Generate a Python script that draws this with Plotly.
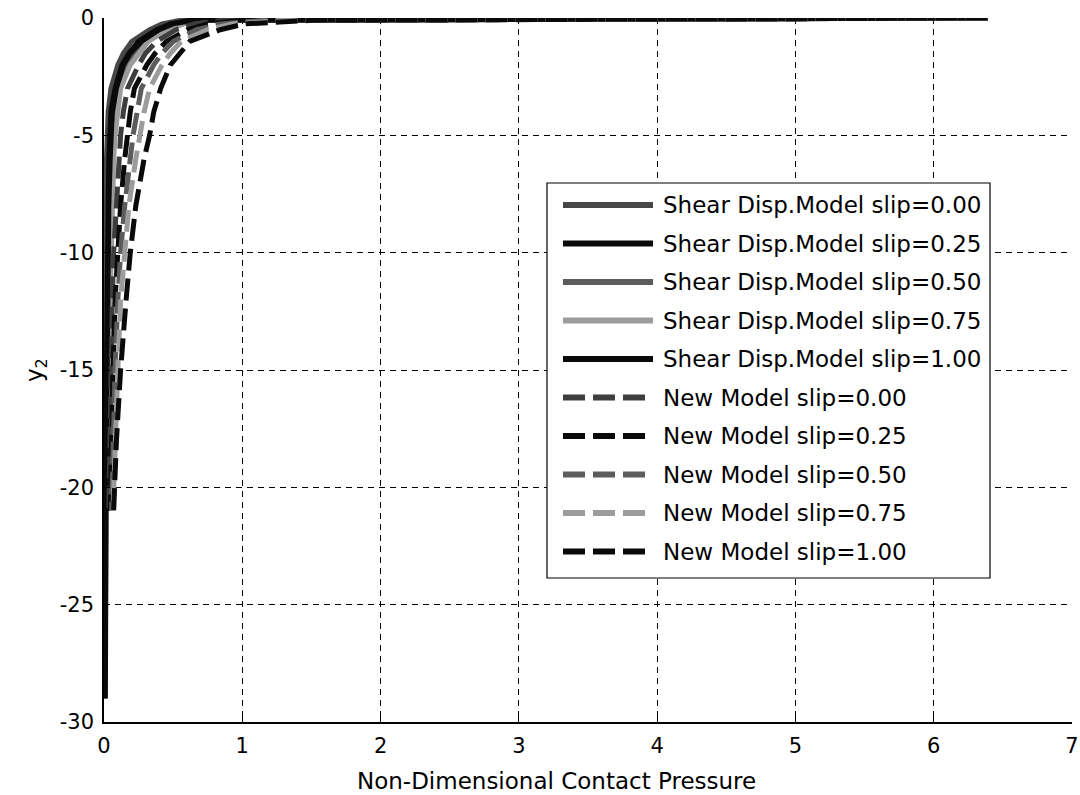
import plotly.graph_objects as go

# ---------------- data ----------------
depth = [0, -0.1, -0.25, -0.5, -1, -1.5, -2, -3, -4, -5, -6, -8, -10, -12, -15, -18, -21, -25, -29]

shear_000 = [6.39, 0.55, 0.42, 0.33, 0.20, 0.14, 0.10, 0.05, 0.03, 0.02, 0.018, 0.015, 0.012, 0.010, 0.008, 0.007, 0.006, 0.005, 0.004]
shear_025 = [6.39, 0.62, 0.48, 0.38, 0.25, 0.18, 0.13, 0.08, 0.05, 0.04, 0.035, 0.03, 0.025, 0.02, 0.018, 0.015, 0.013, 0.011, None]
shear_050 = [6.39, 0.68, 0.53, 0.42, 0.28, 0.21, 0.16, 0.10, 0.08, 0.06, 0.055, 0.045, 0.04, 0.035, 0.03, 0.025, 0.02, None, None]
shear_075 = [6.39, 0.74, 0.58, 0.46, 0.32, 0.25, 0.19, 0.12, 0.10, 0.08, 0.07, 0.06, 0.05, 0.045, 0.04, 0.035, 0.03, None, None]
shear_100 = [6.39, 0.65, 0.50, 0.40, 0.27, 0.19, 0.14, 0.09, 0.06, 0.05, 0.045, 0.035, 0.03, 0.025, 0.02, 0.018, 0.015, 0.012, 0.010]

new_000 = [6.39, 0.85, 0.65, 0.52, 0.38, 0.30, 0.25, 0.17, 0.14, 0.12, 0.11, 0.09, 0.07, 0.06, 0.05, 0.04, 0.035, None, None]
new_025 = [6.39, 1.00, 0.75, 0.60, 0.45, 0.37, 0.31, 0.22, 0.19, 0.17, 0.15, 0.12, 0.10, 0.08, 0.065, 0.055, 0.045, None, None]
new_050 = [6.39, 1.15, 0.84, 0.67, 0.50, 0.42, 0.36, 0.27, 0.24, 0.21, 0.19, 0.15, 0.12, 0.10, 0.08, 0.065, 0.055, None, None]
new_075 = [6.39, 1.30, 0.93, 0.75, 0.56, 0.48, 0.42, 0.33, 0.29, 0.26, 0.23, 0.18, 0.15, 0.12, 0.10, 0.08, 0.065, None, None]
new_100 = [6.39, 1.50, 1.02, 0.84, 0.62, 0.55, 0.48, 0.41, 0.36, 0.33, 0.29, 0.23, 0.19, 0.16, 0.12, 0.09, 0.07, None, None]

series_names = [
    "Shear Disp.Model slip=0.00", "Shear Disp.Model slip=0.25", "Shear Disp.Model slip=0.50",
    "Shear Disp.Model slip=0.75", "Shear Disp.Model slip=1.00",
    "New Model slip=0.00", "New Model slip=0.25", "New Model slip=0.50",
    "New Model slip=0.75", "New Model slip=1.00",
]
series_values = [shear_000, shear_025, shear_050, shear_075, shear_100,
                 new_000, new_025, new_050, new_075, new_100]

x_ticks = [0, 1, 2, 3, 4, 5, 6, 7]
y_ticks = [0, -5, -10, -15, -20, -25, -30]

# ---------------- style ----------------
colors = ["#474747", "#0a0a0a", "#5c5c5c", "#9c9c9c", "#0a0a0a",
          "#3e3e3e", "#0a0a0a", "#5c5c5c", "#9c9c9c", "#0a0a0a"]
dashes = ["solid"] * 5 + ["22px,8px"] * 5
LW = 5
FONT = "DejaVu Sans"

W, H = 1080, 795
ML, MR, MT, MB = 104, 8, 18, 73
PW, PH = W - ML - MR, H - MT - MB


def px_x(p):
    """window pixel -> paper x"""
    return (p - ML) / PW


def px_y(p):
    """window pixel -> paper y"""
    return (H - MB - p) / PH


fig = go.Figure()
for name, vals, c, d in zip(series_names, series_values, colors, dashes):
    fig.add_trace(go.Scatter(
        x=vals, y=depth, mode="lines", name=name,
        line=dict(color=c, width=LW, dash=d),
        showlegend=False, connectgaps=False,
    ))

# ---------------- custom legend (wide line samples like the original) ----------------
shapes = []
annotations = []
box_l, box_r, box_t, box_b = 547, 990, 183, 578
shapes.append(dict(type="rect", xref="paper", yref="paper",
                   x0=px_x(box_l), x1=px_x(box_r), y0=px_y(box_b), y1=px_y(box_t),
                   line=dict(color="black", width=1.2), fillcolor="white", layer="above"))
row0, row_step = 205, 38.5
for i, (name, c, d) in enumerate(zip(series_names, colors, dashes)):
    yy = px_y(row0 + i * row_step)
    shapes.append(dict(type="line", xref="paper", yref="paper",
                       x0=px_x(563), x1=px_x(653), y0=yy, y1=yy,
                       line=dict(color=c, width=6, dash=d), layer="above"))
    annotations.append(dict(text=name, xref="paper", yref="paper",
                            x=px_x(661), y=yy, xanchor="left", yanchor="middle",
                            showarrow=False, font=dict(family=FONT, size=23, color="black")))

# axis titles
annotations.append(dict(text="Non-Dimensional Contact Pressure", xref="paper", yref="paper",
                        x=px_x(556), y=px_y(781), xanchor="center", yanchor="middle",
                        showarrow=False, font=dict(family=FONT, size=23, color="black")))
annotations.append(dict(text="y<sub>2</sub>", xref="paper", yref="paper",
                        x=px_x(36), y=px_y(370), xanchor="center", yanchor="middle",
                        textangle=-90, showarrow=False,
                        font=dict(family=FONT, size=23, color="black")))

axis_common = dict(
    showgrid=True, gridcolor="black", gridwidth=1, griddash="6px,5px",
    zeroline=False, showline=True, linecolor="black", linewidth=1.5,
    ticks="inside", ticklen=6, tickwidth=1, tickcolor="black", mirror=False,
    ticklabeloverflow="allow", automargin=False,
    tickfont=dict(family=FONT, size=21, color="black"),
)

fig.update_layout(
    width=W, height=H,
    margin=dict(l=ML, r=MR, t=MT, b=MB, autoexpand=False),
    paper_bgcolor="white", plot_bgcolor="white",
    showlegend=False,
    shapes=shapes, annotations=annotations,
    xaxis=dict(range=[0, 7], tickvals=x_ticks, ticktext=[str(v) for v in x_ticks],
               ticklabelstandoff=4, **axis_common),
    yaxis=dict(range=[-30, 0], tickvals=y_ticks, ticktext=[str(v) for v in y_ticks],
               ticklabelstandoff=4, **axis_common),
)

# remove the browser's default 8px page margin so the figure fills the window exactly
fig.write_html("out.html",
               config={"displayModeBar": False},
               post_script="document.body.style.margin='0';document.body.style.padding='0';")
